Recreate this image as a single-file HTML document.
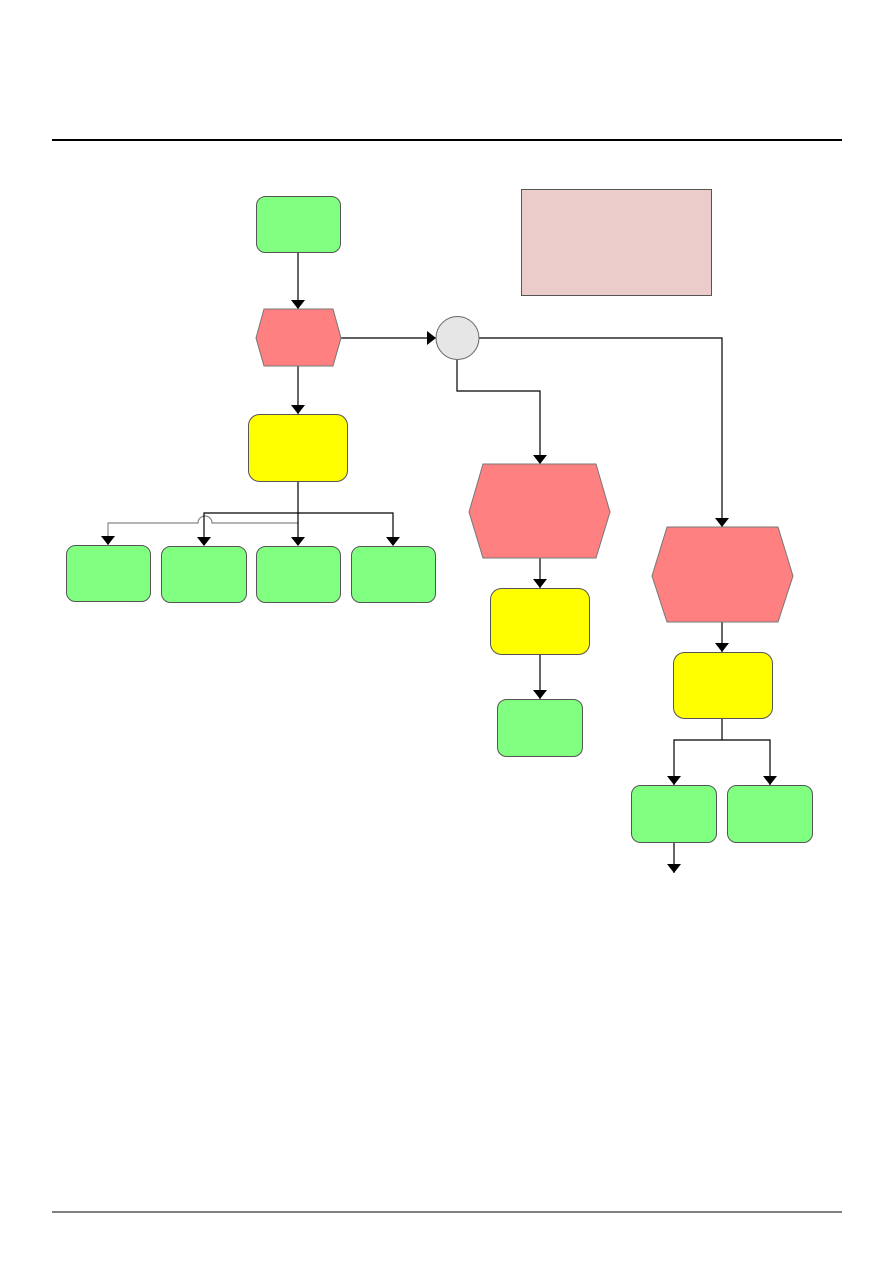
<!DOCTYPE html>
<html><head><meta charset="utf-8"><style>
html,body{margin:0;padding:0;background:#fff;}
svg{display:block;}
</style></head><body>
<svg width="893" height="1263" viewBox="0 0 893 1263" xmlns="http://www.w3.org/2000/svg">
<defs>
<marker id="a" markerWidth="10" markerHeight="10" refX="5" refY="9" orient="auto" markerUnits="userSpaceOnUse">
<path d="M0,0 L10,0 L5,9 Z" fill="#000" transform="rotate(0)"/>
</marker>
</defs>
<line x1="52" y1="140" x2="842" y2="140" stroke="#000" stroke-width="2"/>
<line x1="52" y1="1212" x2="842" y2="1212" stroke="#000" stroke-width="1"/>

<rect x="521.5" y="189.5" width="190" height="106" fill="#ebcccb" stroke="#555" stroke-width="1"/>

<g stroke="#000" stroke-width="1.2" fill="none">
<line x1="298" y1="252" x2="298" y2="309"/>
<path d="M291,300 L305,300 L298,309 Z" fill="#000" stroke="none"/>
<line x1="298" y1="366" x2="298" y2="414"/>
<path d="M291,405 L305,405 L298,414 Z" fill="#000" stroke="none"/>
<line x1="341" y1="338" x2="436" y2="338"/>
<path d="M427,331 L427,345 L436,338 Z" fill="#000" stroke="none"/>
<polyline points="479,338 722,338 722,527"/>
<path d="M715,518 L729,518 L722,527 Z" fill="#000" stroke="none"/>
<polyline points="457,360 457,391 540,391 540,464"/>
<path d="M533,455 L547,455 L540,464 Z" fill="#000" stroke="none"/>
<line x1="540" y1="558" x2="540" y2="588"/>
<path d="M533,579 L547,579 L540,588 Z" fill="#000" stroke="none"/>
<line x1="540" y1="654" x2="540" y2="699"/>
<path d="M533,690 L547,690 L540,699 Z" fill="#000" stroke="none"/>
<line x1="722" y1="622" x2="722" y2="652"/>
<path d="M715,643 L729,643 L722,652 Z" fill="#000" stroke="none"/>
<polyline points="722,718 722,740 674,740 674,785"/>
<polyline points="722,740 770,740 770,785"/>
<path d="M667,776 L681,776 L674,785 Z" fill="#000" stroke="none"/>
<path d="M763,776 L777,776 L770,785 Z" fill="#000" stroke="none"/>
<line x1="674" y1="842" x2="674" y2="873"/>
<path d="M667,864 L681,864 L674,873 Z" fill="#000" stroke="none"/>

<path d="M298,523 L212,523 A7,7 0 0 0 198,523 L108,523 L108,545" stroke="#888"/>
<line x1="298" y1="481" x2="298" y2="545"/>
<polyline points="204,545 204,513 393,513 393,545"/>
<path d="M101,536 L115,536 L108,545 Z" fill="#000" stroke="none"/>
<path d="M197,537 L211,537 L204,546 Z" fill="#000" stroke="none"/>
<path d="M291,537 L305,537 L298,546 Z" fill="#000" stroke="none"/>
<path d="M386,537 L400,537 L393,546 Z" fill="#000" stroke="none"/>
</g>

<g fill="#80ff80" stroke="#555" stroke-width="1">
<rect x="256.5" y="196.5" width="84" height="56" rx="9"/>
<rect x="66.5" y="545.5" width="84" height="56" rx="9"/>
<rect x="161.5" y="546.5" width="85" height="56" rx="9"/>
<rect x="256.5" y="546.5" width="84" height="56" rx="9"/>
<rect x="351.5" y="546.5" width="84" height="56" rx="9"/>
<rect x="497.5" y="699.5" width="85" height="57" rx="9"/>
<rect x="631.5" y="785.5" width="85" height="57" rx="9"/>
<rect x="727.5" y="785.5" width="85" height="57" rx="9"/>
</g>
<g fill="#ffff00" stroke="#555" stroke-width="1">
<rect x="248.5" y="414.5" width="99" height="67" rx="11"/>
<rect x="490.5" y="588.5" width="99" height="66" rx="11"/>
<rect x="673.5" y="652.5" width="99" height="66" rx="11"/>
</g>
<g fill="#ff8080" stroke="#777" stroke-width="1">
<polygon points="264,309 333,309 341,338 333,366 264,366 256,338"/>
<polygon points="483,464 596,464 610,512 596,558 483,558 469,512"/>
<polygon points="667,527 778,527 793,576 778,622 667,622 652,576"/>
</g>
<circle cx="457.5" cy="338" r="21.5" fill="#e6e6e6" stroke="#666" stroke-width="1"/>
</svg>
</body></html>
